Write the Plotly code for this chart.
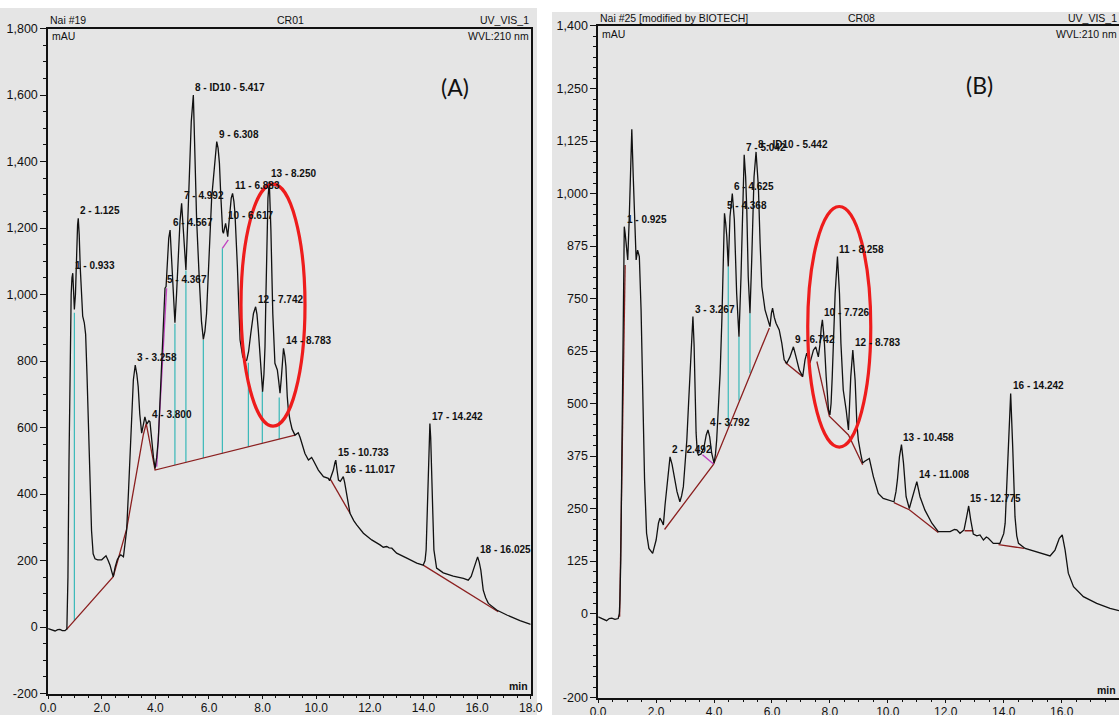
import plotly.graph_objects as go

# ---------------- Panel A : Nai #19  CR01 ----------------
a_time = [0.00, 0.12, 0.26, 0.36, 0.44, 0.53, 0.63, 0.70, 0.74, 0.78, 0.82, 0.86, 0.89, 0.92, 0.95, 0.98,
          1.02, 1.06, 1.10, 1.125, 1.16, 1.20, 1.24, 1.29, 1.35, 1.40, 1.45, 1.50, 1.56, 1.62, 1.68, 1.75,
          1.85, 2.00, 2.08, 2.16, 2.24, 2.31, 2.38, 2.43, 2.50, 2.58, 2.65, 2.71, 2.81, 2.88, 2.93, 3.00,
          3.05, 3.12, 3.18, 3.25, 3.31, 3.36, 3.42, 3.49, 3.55, 3.61, 3.68, 3.76, 3.80, 3.86, 3.93, 3.99,
          4.05, 4.11, 4.17, 4.24, 4.30, 4.36, 4.40, 4.45, 4.50, 4.55, 4.60, 4.66, 4.73, 4.79, 4.85, 4.92,
          4.98, 5.04, 5.10, 5.14, 5.20, 5.27, 5.34, 5.417, 5.48, 5.54, 5.64, 5.72, 5.79, 5.85, 5.91, 5.98,
          6.04, 6.10, 6.16, 6.22, 6.29, 6.34, 6.39, 6.44, 6.47, 6.51, 6.54, 6.58, 6.62, 6.66, 6.70, 6.74,
          6.78, 6.83, 6.88, 6.93, 6.97, 7.02, 7.06, 7.11, 7.16, 7.26, 7.35, 7.41, 7.48, 7.56, 7.66, 7.74,
          7.79, 7.84, 7.93, 8.00, 8.05, 8.09, 8.12, 8.15, 8.20, 8.25, 8.28, 8.31, 8.35, 8.38, 8.46, 8.55,
          8.60, 8.65, 8.70, 8.74, 8.78, 8.83, 8.87, 8.92, 8.96, 9.02, 9.10, 9.21, 9.27, 9.33, 9.40, 9.46,
          9.58, 9.71, 9.77, 9.83, 9.90, 9.96, 10.08, 10.27, 10.45, 10.50, 10.55, 10.64, 10.70, 10.73, 10.78, 10.83,
          10.90, 10.96, 11.01, 11.06, 11.11, 11.18, 11.26, 11.40, 11.51, 11.76, 11.90, 12.07, 12.38, 12.50, 12.63, 12.72,
          12.82, 13.00, 13.38, 13.75, 13.99, 14.06, 14.10, 14.14, 14.18, 14.21, 14.24, 14.27, 14.31, 14.35, 14.39, 14.44,
          14.49, 14.74, 15.11, 15.49, 15.67, 15.78, 15.86, 15.94, 16.02, 16.08, 16.14, 16.23, 16.32, 16.42, 16.73, 17.11,
          17.60, 18.00]
a_mau = [-5, -8, -12, -8, -7, -11, -11, -6, 150, 500, 850, 1000, 1050, 1064, 1010, 955,
         1000, 1130, 1210, 1229, 1180, 1080, 990, 935, 915, 880, 760, 600, 450, 290, 220, 205,
         202, 202, 208, 214, 200, 186, 165, 151, 180, 202, 212, 217, 211, 250, 292, 410,
         512, 650, 743, 788, 760, 723, 640, 583, 605, 632, 610, 620, 617, 562, 510, 477,
         510, 562, 680, 793, 910, 1019, 1024, 1100, 1170, 1194, 1120, 1000, 915, 1000, 1120, 1220,
         1274, 1200, 1100, 1074, 1200, 1380, 1520, 1600, 1430, 1224, 1044, 920, 865, 890, 943, 1080,
         1214, 1290, 1344, 1410, 1460, 1440, 1395, 1300, 1244, 1190, 1184, 1200, 1214, 1195, 1174, 1210,
         1244, 1290, 1304, 1280, 1244, 1170, 1084, 970, 863, 813, 800, 803, 830, 883, 943, 963,
         940, 893, 793, 708, 760, 843, 980, 1144, 1290, 1340, 1280, 1194, 1050, 943, 793, 773,
         740, 703, 750, 783, 838, 815, 783, 693, 653, 623, 595, 577, 580, 584, 570, 552,
         522, 502, 505, 510, 500, 492, 472, 452, 447, 440, 452, 472, 495, 502, 470, 442,
         438, 448, 452, 435, 412, 375, 342, 320, 307, 282, 272, 262, 247, 240, 242, 238,
         237, 222, 207, 192, 186, 200, 232, 340, 482, 570, 612, 570, 482, 340, 232, 195,
         177, 163, 153, 146, 141, 152, 171, 195, 211, 195, 171, 111, 88, 71, 51, 36,
         19, 8]

a_base_t = [0.69, 2.43, 2.93, 3.55, 3.66, 3.99, 9.21, None, 10.51, 11.26, None, 13.99, 16.79]
a_base_v = [-7, 151, 295, 578, 612, 472, 577, None, 447, 342, None, 186, 46]
a_skim_t = [4.05, 4.42, None, 6.50, 6.72]
a_skim_v = [482, 1019, None, 1139, 1164]
a_drop_t = [0.98, 4.73, 5.14, 5.79, 6.50, 7.47, 7.99, 8.62]
a_drop_top = [945, 912, 1072, 863, 1139, 795, 710, 690]
a_drop_bot = [19, 487, 495, 508, 522, 542, 552, 565]

a_peak_label = ["1 - 0.933", "2 - 1.125", "3 - 3.258", "4 - 3.800", "5 - 4.367", "6 - 4.567",
                "7 - 4.992", "8 - ID10 - 5.417", "9 - 6.308", "10 - 6.617", "11 - 6.883",
                "12 - 7.742", "13 - 8.250", "14 - 8.783", "15 - 10.733", "16 - 11.017",
                "17 - 14.242", "18 - 16.025"]
a_peak_t = [0.933, 1.125, 3.258, 3.800, 4.367, 4.567, 4.992, 5.417, 6.308, 6.617, 6.883,
            7.742, 8.250, 8.783, 10.733, 11.017, 14.242, 16.025]
a_peak_v = [1064, 1229, 788, 617, 1024, 1194, 1274, 1600, 1460, 1214, 1304,
            963, 1340, 838, 502, 452, 612, 211]

# ---------------- Panel B : Nai #25  CR08 ----------------
b_time = [0.00, 0.12, 0.29, 0.38, 0.47, 0.58, 0.69, 0.73, 0.75, 0.78, 0.81, 0.84, 0.87, 0.90, 0.93, 0.96,
          0.99, 1.02, 1.07, 1.12, 1.16, 1.21, 1.27, 1.31, 1.36, 1.42, 1.48, 1.54, 1.60, 1.67, 1.75, 1.88,
          2.00, 2.08, 2.13, 2.19, 2.25, 2.31, 2.36, 2.42, 2.48, 2.55, 2.62, 2.72, 2.82, 2.88, 2.94, 3.00,
          3.06, 3.12, 3.17, 3.22, 3.27, 3.31, 3.34, 3.38, 3.42, 3.46, 3.55, 3.65, 3.73, 3.79, 3.85, 3.92,
          4.00, 4.05, 4.09, 4.15, 4.21, 4.27, 4.32, 4.36, 4.40, 4.44, 4.49, 4.55, 4.63, 4.70, 4.78, 4.86,
          4.93, 4.99, 5.04, 5.09, 5.13, 5.18, 5.24, 5.30, 5.38, 5.45, 5.53, 5.59, 5.65, 5.76, 5.87, 5.93,
          5.98, 6.02, 6.08, 6.14, 6.25, 6.34, 6.42, 6.51, 6.62, 6.68, 6.74, 6.83, 6.94, 7.06, 7.14, 7.20,
          7.31, 7.43, 7.51, 7.60, 7.66, 7.70, 7.74, 7.78, 7.81, 7.87, 7.95, 8.00, 8.04, 8.08, 8.13, 8.18,
          8.26, 8.33, 8.38, 8.46, 8.56, 8.64, 8.68, 8.72, 8.79, 8.83, 8.87, 8.93, 8.98, 9.06, 9.13, 9.19,
          9.25, 9.36, 9.50, 9.67, 9.84, 10.08, 10.21, 10.28, 10.33, 10.40, 10.47, 10.54, 10.63, 10.74, 10.88, 11.00,
          11.11, 11.28, 11.52, 11.74, 11.92, 12.15, 12.30, 12.38, 12.49, 12.63, 12.72, 12.79, 12.86, 12.95, 13.07, 13.18,
          13.30, 13.40, 13.47, 13.64, 13.87, 14.00, 14.05, 14.10, 14.16, 14.24, 14.31, 14.39, 14.45, 14.51, 14.74, 15.14,
          15.60, 15.77, 15.92, 16.02, 16.12, 16.23, 16.41, 16.75, 17.21, 17.67, 17.98]
b_mau = [-8, -12, -17, -12, -11, -14, -12, 0, 32, 130, 300, 550, 760, 921, 905, 880,
         855, 842, 937, 1080, 1153, 1040, 881, 842, 865, 850, 723, 485, 320, 191, 155, 143,
         175, 215, 227, 220, 211, 260, 294, 345, 373, 355, 326, 290, 266, 280, 302, 350,
         413, 500, 572, 650, 707, 640, 540, 430, 385, 377, 380, 395, 425, 437, 420, 381,
         358, 380, 413, 490, 572, 700, 881, 953, 930, 897, 826, 945, 1000, 937, 762, 659,
         802, 961, 1092, 1040, 961, 802, 715, 842, 1040, 1099, 1016, 881, 778, 723, 699, 683,
         715, 727, 705, 691, 675, 643, 604, 596, 611, 625, 635, 611, 580, 564, 604, 620,
         596, 627, 635, 611, 643, 680, 699, 670, 643, 564, 485, 473, 500, 564, 680, 762,
         850, 762, 643, 532, 485, 437, 500, 564, 627, 600, 556, 453, 413, 381, 358, 362,
         365, 369, 326, 286, 274, 270, 266, 290, 318, 373, 402, 358, 278, 250, 286, 314,
         278, 246, 215, 195, 195, 195, 200, 199, 191, 199, 230, 256, 223, 189, 185, 187,
         175, 182, 179, 167, 167, 190, 215, 300, 397, 524, 397, 230, 185, 167, 155, 147,
         137, 151, 179, 187, 151, 96, 64, 40, 24, 12, 7]

b_base_t = [0.74, 0.93, None, 2.29, 3.98, 5.91, None, 6.45, 7.06, None, 7.55, 7.98, 8.64, 9.13, None,
            10.21, 10.74, 11.74, None, 12.65, 12.95, None, 13.82, 14.70]
b_base_v = [-8, 830, None, 200, 355, 680, None, 598, 564, None, 600, 470, 425, 354, None,
            264, 247, 193, None, 197, 197, None, 164, 155]
b_skim_t = [3.60, 3.98]
b_skim_v = [378, 356]
b_drop_t = [4.49, 4.86, 5.24]
b_drop_top = [826, 659, 715]
b_drop_bot = [443, 507, 572]

b_peak_label = ["1 - 0.925", "2 - 2.492", "3 - 3.267", "4 - 3.792", "5 - 4.368", "6 - 4.625",
                "7 - 5.042", "8 - ID10 - 5.442", "9 - 6.742", "10 - 7.726", "11 - 8.258",
                "12 - 8.783", "13 - 10.458", "14 - 11.008", "15 - 12.775", "16 - 14.242"]
b_peak_t = [0.925, 2.492, 3.267, 3.792, 4.368, 4.625, 5.042, 5.442, 6.742, 7.726, 8.258,
            8.783, 10.458, 11.008, 12.775, 14.242]
b_peak_v = [921, 373, 707, 437, 953, 1000, 1092, 1099, 635, 699, 850,
            627, 402, 314, 256, 524]

# ticks
x_ticks = [0, 2, 4, 6, 8, 10, 12, 14, 16, 18]
a_yticks = [-200, 0, 200, 400, 600, 800, 1000, 1200, 1400, 1600, 1800]
b_yticks = [-200, 0, 125, 250, 375, 500, 625, 750, 875, 1000, 1125, 1250, 1400]

FONT = "Liberation Sans, Arial, sans-serif"
BLACK = "#111111"
BASE = "#8b2020"
CYAN = "#38b8b8"
MAG = "#c040c0"
GRAY = "#e5e5e5"


def seg(ts, bots, tops):
    xs, ys = [], []
    for t, b, u in zip(ts, bots, tops):
        xs += [t, t, None]
        ys += [b, u, None]
    return xs, ys


fig = go.Figure()
for xa, ya, tt, vv, bt, bv, st, sv, dt, dtop, dbot in [
        ("x", "y", a_time, a_mau, a_base_t, a_base_v, a_skim_t, a_skim_v, a_drop_t, a_drop_top, a_drop_bot),
        ("x2", "y2", b_time, b_mau, b_base_t, b_base_v, b_skim_t, b_skim_v, b_drop_t, b_drop_top, b_drop_bot)]:
    dx, dy = seg(dt, dbot, dtop)
    fig.add_trace(go.Scatter(x=dx, y=dy, mode="lines", line=dict(color=CYAN, width=1.2),
                             xaxis=xa, yaxis=ya, hoverinfo="skip", showlegend=False))
    fig.add_trace(go.Scatter(x=bt, y=bv, mode="lines", line=dict(color=BASE, width=1.3),
                             xaxis=xa, yaxis=ya, hoverinfo="skip", showlegend=False))
    fig.add_trace(go.Scatter(x=st, y=sv, mode="lines", line=dict(color=MAG, width=1.3),
                             xaxis=xa, yaxis=ya, hoverinfo="skip", showlegend=False))
    fig.add_trace(go.Scatter(x=tt, y=vv, mode="lines", line=dict(color=BLACK, width=1.3),
                             xaxis=xa, yaxis=ya, showlegend=False))

annotations = []
for xa, ya, labs, pt, pv in [("x", "y", a_peak_label, a_peak_t, a_peak_v),
                             ("x2", "y2", b_peak_label, b_peak_t, b_peak_v)]:
    for lab, t, v in zip(labs, pt, pv):
        annotations.append(dict(x=t, y=v, xref=xa, yref=ya, text="<b>" + lab + "</b>",
                                showarrow=False, xanchor="left", yanchor="bottom", yshift=0,
                                font=dict(family=FONT, size=10, color=BLACK)))


def hdr(xr, yr, x, y, text, xanchor, yanchor, size=10.5):
    return dict(x=x, y=y, xref=xr, yref=yr, text=text, showarrow=False, xanchor=xanchor,
                yanchor=yanchor, font=dict(family=FONT, size=size, color=BLACK))


for xr, yr, left, mid, midx in [("x domain", "y domain", "Nai #19", "CR01", 0.503),
                                ("x2 domain", "y2 domain", "Nai #25 [modified by BIOTECH]", "CR08", 0.505)]:
    annotations += [
        hdr(xr, yr, 0, 1, left, "left", "bottom"),
        hdr(xr, yr, midx, 1, mid, "center", "bottom"),
        hdr(xr, yr, 1, 1, "UV_VIS_1", "right", "bottom"),
        hdr(xr, yr, 0.003, 1, "mAU", "left", "top"),
        hdr(xr, yr, 1, 1, "WVL:210 nm", "right", "top"),
        hdr(xr, yr, 0.998, 0, "<b>min</b>", "right", "bottom"),
    ]
annotations.append(dict(x=0.843, y=0.912, xref="x domain", yref="y domain", text="(A)", showarrow=False,
                        xanchor="center", yanchor="middle",
                        font=dict(family="Lato, Open Sans, sans-serif", size=23, color=BLACK)))
annotations.append(dict(x=0.733, y=0.9115, xref="x2 domain", yref="y2 domain", text="(B)", showarrow=False,
                        xanchor="center", yanchor="middle",
                        font=dict(family="Lato, Open Sans, sans-serif", size=23, color=BLACK)))

shapes = [
    dict(type="rect", xref="paper", yref="paper", x0=0, x1=537 / 1119, y0=0, y1=(715 - 8) / 715,
         fillcolor=GRAY, line=dict(width=0), layer="below"),
    dict(type="rect", xref="paper", yref="paper", x0=552 / 1119, x1=1, y0=0, y1=(715 - 12) / 715,
         fillcolor=GRAY, line=dict(width=0), layer="below"),
    dict(type="circle", xref="x", yref="y", x0=7.195, x1=9.582, y0=604, y1=1332,
         line=dict(color="#ee1c1c", width=3.2)),
    dict(type="circle", xref="x2", yref="y2", x0=7.234, x1=9.41, y0=396, y1=969,
         line=dict(color="#ee1c1c", width=3.2)),
]


def xax(domain, rng, anchor):
    return dict(domain=domain, range=rng, anchor=anchor, showline=True, linecolor=BLACK, linewidth=1.6,
                mirror=True, ticks="outside", ticklen=4, tickwidth=1.2, tickcolor=BLACK,
                tickvals=x_ticks, ticktext=[f"{v:.1f}" for v in x_ticks],
                tickfont=dict(family=FONT, size=12, color=BLACK), ticklabelstandoff=-2,
                minor=dict(dtick=0.5, tick0=0, ticks="outside", ticklen=3, tickcolor=BLACK),
                showgrid=False, zeroline=False, fixedrange=True, automargin=False)


def yax(domain, rng, anchor, vals, mdt):
    return dict(domain=domain, range=rng, anchor=anchor, showline=True, linecolor=BLACK, linewidth=1.6,
                mirror=True, ticks="outside", ticklen=6, tickwidth=1.2, tickcolor=BLACK,
                tickvals=vals, ticktext=[f"{v:,}" for v in vals],
                tickfont=dict(family=FONT, size=12.5, color=BLACK),
                minor=dict(dtick=mdt, tick0=0, ticks="outside", ticklen=3, tickcolor=BLACK),
                showgrid=False, zeroline=False, fixedrange=True, automargin=False)


fig.update_layout(
    width=1119, height=715, margin=dict(l=0, r=0, t=0, b=0, autoexpand=False),
    paper_bgcolor="white", plot_bgcolor=GRAY, showlegend=False,
    xaxis=xax([48.1 / 1119, 530.7 / 1119], [0, 18], "y"),
    yaxis=yax([(715 - 693.5) / 715, (715 - 28.5) / 715], [-200, 1800], "x", a_yticks, 50),
    xaxis2=xax([598.2 / 1119, 1.0], [0, 17.98], "y2"),
    yaxis2=yax([(715 - 697.5) / 715, (715 - 25.5) / 715], [-200, 1400], "x2", b_yticks, 25),
    annotations=annotations, shapes=shapes,
)

fig.write_html("out.html", config={"displayModeBar": False},
               post_script="document.body.style.margin='0';document.body.style.padding='0';"
                           "document.body.style.overflow='hidden';")
